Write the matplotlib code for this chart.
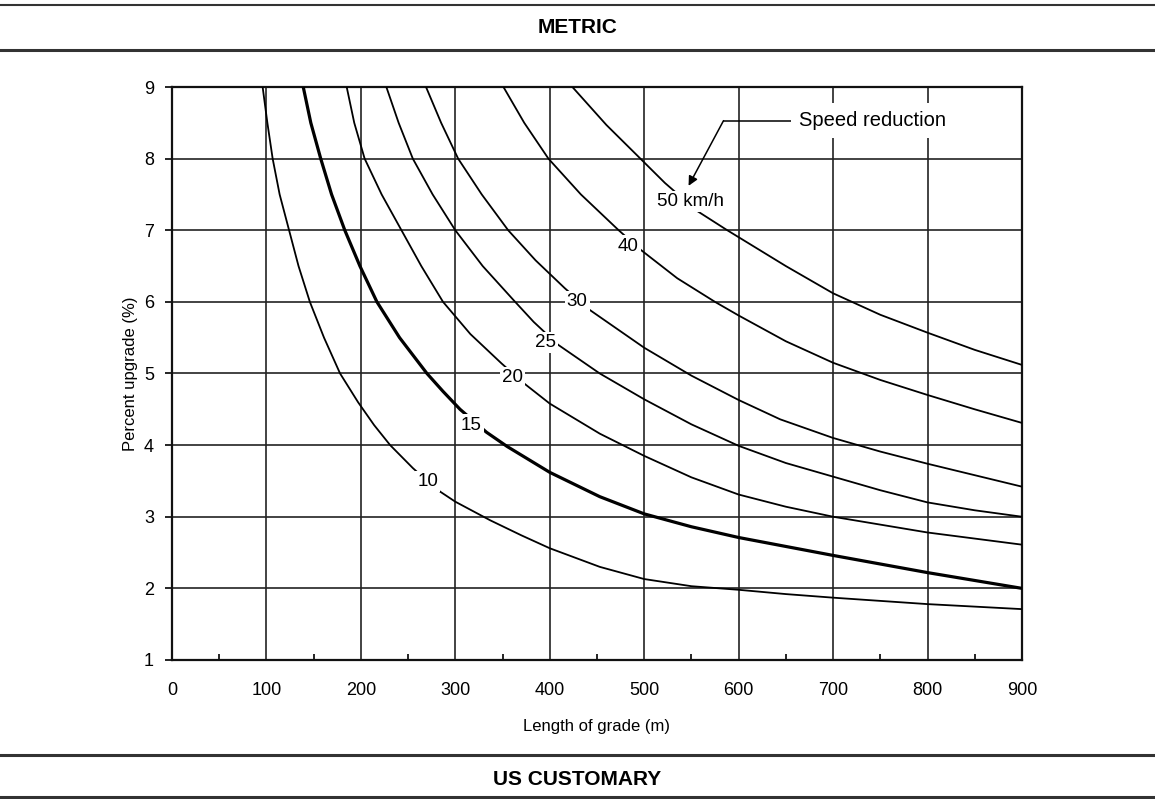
import matplotlib
matplotlib.use("Agg")
import matplotlib.pyplot as plt
from matplotlib.lines import Line2D

plt.rcParams['font.family'] = ['Liberation Sans', 'DejaVu Sans']

# values: length of grade (m) vs percent upgrade (%)
len_10 = [96, 101, 106.6, 114, 124, 134, 146, 161, 178, 197, 214, 231, 255, 271, 284, 300,
          337, 370, 400, 453, 500, 550, 600, 650, 700, 800, 900]
grade_10 = [9.0, 8.5, 8.0, 7.5, 7.0, 6.5, 6.0, 5.5, 5.0, 4.6, 4.28, 4.0, 3.68, 3.49, 3.35, 3.21,
            2.95, 2.74, 2.56, 2.30, 2.13, 2.03, 1.98, 1.92, 1.87, 1.78, 1.71]

len_15 = [139, 147, 157.5, 169, 183, 199, 217, 241, 270, 287, 305, 333, 355, 400, 453, 500,
          550, 600, 700, 800, 900]
grade_15 = [9.0, 8.5, 8.0, 7.5, 7.0, 6.5, 6.0, 5.5, 5.0, 4.75, 4.5, 4.18, 3.98, 3.62, 3.28, 3.04,
            2.86, 2.71, 2.46, 2.22, 2.0]

len_20 = [185, 193, 204, 222, 243, 264, 287, 316, 349, 373, 400, 453, 500, 550, 600, 650,
          700, 800, 900]
grade_20 = [9.0, 8.5, 8.0, 7.5, 7.0, 6.5, 6.0, 5.55, 5.14, 4.86, 4.58, 4.16, 3.85, 3.55, 3.31, 3.14,
            3.0, 2.78, 2.61]

len_25 = [227, 240, 255, 276, 300, 329, 362, 383, 409, 453, 500, 550, 600, 650, 700, 750,
          800, 850, 900]
grade_25 = [9.0, 8.5, 8.0, 7.5, 7.0, 6.5, 6.02, 5.72, 5.40, 5.0, 4.64, 4.29, 3.99, 3.75, 3.56, 3.37,
            3.2, 3.09, 3.0]

len_30 = [269, 285, 303, 328, 356, 385, 416, 441, 500, 550, 600, 644, 700, 750, 800, 850, 900]
grade_30 = [9.0, 8.5, 8.0, 7.5, 7.0, 6.58, 6.19, 5.9, 5.36, 4.97, 4.63, 4.36, 4.10, 3.91, 3.74,
            3.58, 3.42]

len_40 = [351, 373, 398.6, 433, 473, 497, 535, 575, 600, 650, 700, 750, 800, 850, 900]
grade_40 = [9.0, 8.5, 8.0, 7.5, 7.0, 6.72, 6.33, 6.0, 5.81, 5.45, 5.15, 4.91, 4.70, 4.50, 4.31]

len_50 = [424, 460, 496, 522, 556, 588, 650, 700, 750, 800, 850, 900]
grade_50 = [9.0, 8.47, 8.0, 7.66, 7.27, 7.0, 6.5, 6.12, 5.82, 5.57, 5.33, 5.12]

x_ticks = [0, 100, 200, 300, 400, 500, 600, 700, 800, 900]
y_ticks = [1, 2, 3, 4, 5, 6, 7, 8, 9]

fig = plt.figure(figsize=(11.55, 7.99), dpi=100)
ax = fig.add_axes([0.1489, 0.174, 0.7359, 0.7171])

# curves, 15 km/h is drawn heavier
curves = [(len_10, grade_10, 1.3), (len_15, grade_15, 2.3), (len_20, grade_20, 1.3),
          (len_25, grade_25, 1.3), (len_30, grade_30, 1.3), (len_40, grade_40, 1.3),
          (len_50, grade_50, 1.3)]
for xs, ys, lw in curves:
    ax.plot(xs, ys, color='black', lw=lw, zorder=3, solid_joinstyle='round')

# inline labels with white background that breaks the line
box = dict(facecolor='white', edgecolor='none', pad=1.5)
labels = [("10", 271, 3.49), ("15", 317, 4.28), ("20", 361, 4.95), ("25", 395, 5.43),
          ("30", 429, 6.0), ("40", 483, 6.78), ("50 km/h", 549, 7.40)]
for txt, lx, ly in labels:
    ax.text(lx, ly, txt, ha='center', va='center', fontsize=13.5, bbox=box, zorder=5)

# speed reduction call-out
ax.plot([662, 584], [8.53, 8.53], color='black', lw=1.1, zorder=4)
ax.annotate('', xy=(547, 7.62), xytext=(584, 8.53),
            arrowprops=dict(arrowstyle='-|>', color='black', lw=1.1,
                            mutation_scale=14, shrinkA=0, shrinkB=0), zorder=4)
ax.text(742, 8.53, "Speed reduction", ha='center', va='center', fontsize=14.5,
        bbox=dict(facecolor='white', edgecolor='none', pad=6), zorder=5)

ax.set_xlim(0, 900)
ax.set_ylim(1, 9)
ax.set_xticks(x_ticks)
ax.set_yticks(y_ticks)
ax.set_xticks([50, 150, 250, 350, 450, 550, 650, 750, 850], minor=True)
ax.grid(True, which='major', color='#222222', lw=1.2, zorder=1)
ax.tick_params(axis='x', which='major', length=0, pad=16, labelsize=13)
ax.tick_params(axis='x', which='minor', direction='in', length=4, width=1.2)
ax.tick_params(axis='y', which='major', direction='out', length=5, width=1.2,
               pad=8, labelsize=13)
for sp in ax.spines.values():
    sp.set_linewidth(1.6)
    sp.set_color('#111111')

ax.set_xlabel("Length of grade (m)", fontsize=12, labelpad=14)
ax.set_ylabel("Percent upgrade (%)", fontsize=12, labelpad=4)

# header and footer rules
for yy, lw in [(0.994, 1.5), (0.938, 2.2), (0.055, 2.2), (0.003, 2.2)]:
    fig.add_artist(Line2D([0, 1], [yy, yy], transform=fig.transFigure,
                          color='#333333', lw=lw))
fig.text(0.5, 0.966, "METRIC", ha='center', va='center', fontsize=15, fontweight='bold')
fig.text(0.5, 0.025, "US CUSTOMARY", ha='center', va='center', fontsize=15, fontweight='bold')

fig.savefig("out.png", dpi=100, facecolor='white')
